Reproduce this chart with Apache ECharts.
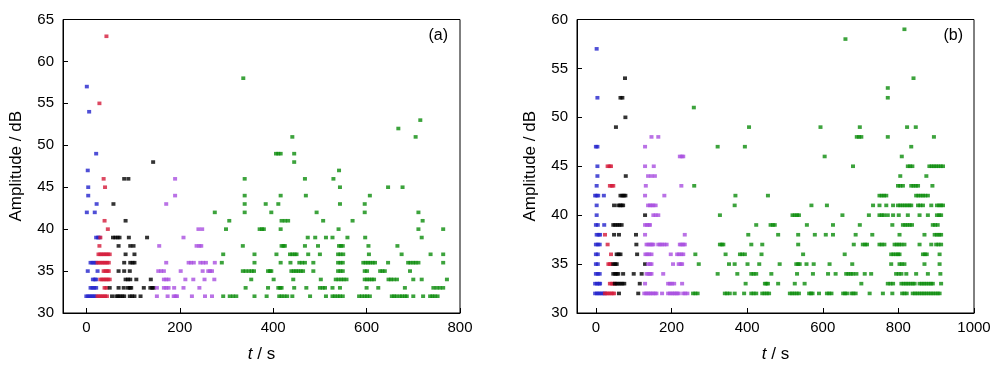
<!DOCTYPE html>
<html>
<head>
<meta charset="utf-8">
<script src="https://cdn.jsdelivr.net/npm/echarts@6/dist/echarts.min.js"></script>
<style>
html,body{margin:0;padding:0;background:#fff;}
#c{width:1000px;height:372px;}
</style>
</head>
<body>
<div id="c"></div>
<script>
// ---------- tick labels ----------
var xTicksA = [0, 200, 400, 600, 800];
var xTicksB = [0, 200, 400, 600, 800, 1000];

// ---------- panel (a) data: [t (s), amplitude (dB)] ----------
var blueA = [[1,57],[6,54],[21,49],[3,47],[4,45],[4,44],[22,43],[1,42],[18,42],
  [21,39],[25,39],[28,39],
  [9,36],[13,36],[17,36],[21,36],
  [3,35],[24,35],
  [14,34],[18,34],[21,34],
  [9,33],[13,33],[17,33],[21,33],
  [0,32],[4,32],[8,32],[12,32],[16,32],[20,32]];

var redA = [[43,63],[28,55],[37,46],[40,45],[39,41],[46,40],[30,39],[28,38],
  [26,37],[30,37],[34,37],[38,37],[42,37],[46,37],[50,37],
  [24,36],[28,36],[32,36],[36,36],[40,36],[44,36],[48,36],
  [37,35],[41,35],[45,35],[48,35],
  [30,34],[34,34],[38,34],[42,34],[46,34],[50,34],
  [39,33],[43,33],
  [24,32],[28,32],[32,32],[36,32],[40,32],[44,32]];

var blackA = [[143,48],[81,46],[90,46],[58,43],[84,41],
  [57,39],[62,39],[67,39],[71,39],[91,39],[130,39],
  [69,38],[94,38],[101,38],
  [84,37],[103,37],
  [81,36],[94,36],[99,36],[103,36],
  [69,35],[81,35],[93,35],
  [84,34],[89,34],[94,34],[107,34],[138,34],
  [50,33],[69,33],[80,33],[89,33],[93,33],[96,33],[123,33],[137,33],[141,33],[144,33],
  [55,32],[64,32],[68,32],[72,32],[77,32],[81,32],[93,32],[98,32],[103,32],[116,32]];

var purpleA = [[190,46],[190,44],[171,43],[240,40],[248,40],[208,39],
  [156,38],[236,38],[242,38],[246,38],
  [171,36],[219,36],[224,36],[230,36],[244,36],[250,36],[256,36],[275,36],
  [154,35],[160,35],[166,35],[202,35],[249,35],[261,35],[265,35],[269,35],
  [166,34],[171,34],[176,34],[212,34],[229,34],[253,34],[274,34],
  [151,33],[166,33],[171,33],[176,33],[188,33],[208,33],[242,33],
  [151,32],[174,32],[187,32],[191,32],[194,32],[226,32],[254,32],[269,32]];

var greenA = [[336,58],[715,53],[668,52],[441,51],[705,51],
  [406,49],[411,49],[416,49],[445,49],
  [445,48],[541,47],
  [339,46],[468,46],[529,46],
  [543,45],[646,45],[677,45],
  [339,44],[416,44],[470,44],[607,44],
  [339,43],[384,43],[411,43],[543,43],[596,43],
  [275,42],[339,42],[396,42],[493,42],[596,42],[711,42],
  [306,41],[418,41],[425,41],[432,41],[507,41],[570,41],[720,41],
  [299,40],[371,40],[376,40],[380,40],[416,40],[540,40],[711,40],[764,40],
  [474,39],[490,39],[513,39],[527,39],[559,39],[597,39],[718,39],
  [335,38],[418,38],[422,38],[425,38],[468,38],[496,38],[541,38],[545,38],[549,38],[604,38],[666,38],
  [293,37],[360,37],[407,37],[436,37],[441,37],[446,37],[450,37],[475,37],[500,37],[539,37],[544,37],[550,37],[605,37],[675,37],[737,37],[764,37],
  [290,36],[360,36],[416,36],[437,36],[456,36],[462,36],[468,36],[486,36],[539,36],[544,36],[549,36],[593,36],[598,36],[603,36],[608,36],[613,36],[618,36],[646,36],[689,36],[694,36],[700,36],[705,36],[711,36],[764,36],
  [335,35],[341,35],[348,35],[354,35],[359,35],[389,35],[393,35],[396,35],[439,35],[444,35],[449,35],[454,35],[459,35],[464,35],[486,35],[539,35],[544,35],[549,35],[596,35],[601,35],[629,35],[634,35],[639,35],[693,35],
  [353,34],[401,34],[443,34],[502,34],[534,34],[540,34],[546,34],[551,34],[557,34],[596,34],[601,34],[606,34],[611,34],[616,34],[647,34],[652,34],[658,34],[665,34],[700,34],[718,34],[772,34],
  [341,33],[389,33],[411,33],[415,33],[418,33],[445,33],[471,33],[500,33],[506,33],[511,33],[527,33],[543,33],[600,33],[625,33],[682,33],[743,33],[750,33],[757,33],[764,33],
  [293,32],[307,32],[314,32],[321,32],[360,32],[386,32],[413,32],[418,32],[424,32],[430,32],[441,32],[479,32],[513,32],[527,32],[532,32],[538,32],[543,32],[549,32],[584,32],[590,32],[596,32],[601,32],[607,32],[654,32],[659,32],[664,32],[671,32],[676,32],[682,32],[686,32],[700,32],[721,32],[736,32],[741,32],[746,32],[752,32]];

// ---------- panel (b) data ----------
var blueB = [[2,57],[4,52],[0,47],[4,47],[4,45],[4,44],[2,43],[-2,42],[2,42],[6,42],[21,42],[2,41],[2,40],
  [0,39],[5,39],[22,39],
  [2,38],[7,38],[11,38],
  [0,37],[5,37],[10,37],
  [0,36],[5,36],
  [0,35],[5,35],
  [0,34],[5,34],[10,34],
  [-2,33],[3,33],[8,33],[11,33],
  [-2,32],[3,32],[8,32],[13,32],[18,32],[23,32]];

var redB = [[31,45],[36,45],[40,45],
  [37,43],[42,43],[46,43],
  [24,38],[31,37],[40,36],
  [33,35],[37,35],[41,35],
  [37,33],[42,33],[46,33],[50,33],
  [24,32],[29,32],[34,32],[39,32],[44,32],[48,32]];

var blackB = [[77,54],[65,52],[70,52],[78,50],[53,49],[79,44],
  [65,42],[70,42],[74,42],[78,42],
  [48,41],[59,41],[64,41],[68,41],[72,41],
  [130,40],
  [46,39],[51,39],[57,39],[62,39],[68,39],
  [48,38],[61,38],[106,38],
  [107,37],
  [55,36],[60,36],[65,36],[109,36],
  [46,35],[51,35],[55,35],[130,35],
  [46,34],[51,34],[55,34],[59,34],[72,34],[100,34],[121,34],
  [50,33],[55,33],[60,33],[65,33],[70,33],[75,33],[116,33],
  [61,32],[112,32]];

var purpleB = [[147,48],[165,48],[130,47],[222,46],[227,46],[231,46],[130,45],[153,45],
  [138,44],[147,44],[156,44],
  [132,43],[226,43],
  [130,42],[181,42],
  [138,41],[143,41],[148,41],[152,41],[158,41],
  [152,40],[158,40],[165,40],
  [130,39],[135,39],[140,39],[143,39],
  [130,38],[235,38],
  [134,37],[139,37],[144,37],[148,37],[152,37],[165,37],[170,37],[175,37],[181,37],[187,37],[222,37],[226,37],[231,37],[235,37],
  [131,36],[136,36],[141,36],[147,36],[198,36],[215,36],[220,36],[226,36],[231,36],
  [138,35],[143,35],[147,35],[204,35],[219,35],[224,35],[228,35],
  [134,34],[139,34],[143,34],[147,34],[178,34],
  [130,33],[191,33],[196,33],[201,33],[207,33],[228,33],
  [128,32],[133,32],[137,32],[142,32],[146,32],[151,32],[156,32],[160,32],[175,32],[191,32],[196,32],[201,32],[206,32],[210,32],[215,32],[219,32],[231,32],[236,32],[242,32]];

var greenB = [[816,59],[660,58],[840,54],[772,53],[772,52],[259,51],
  [405,49],[594,49],[698,49],[823,49],[846,49],
  [690,48],[696,48],[702,48],[772,48],[894,48],
  [322,47],[394,47],[834,47],
  [605,46],[809,46],
  [680,45],[825,45],[831,45],[837,45],[882,45],[888,45],[894,45],[900,45],[906,45],[912,45],[918,45],
  [805,44],[874,44],
  [260,43],[799,43],[805,43],[812,43],[834,43],[840,43],[846,43],[852,43],[890,43],
  [369,42],[455,42],[750,42],[756,42],[762,42],[768,42],[847,42],[853,42],[859,42],[865,42],[871,42],[878,42],
  [367,41],[570,41],[611,41],[733,41],[750,41],[768,41],[786,41],[799,41],[805,41],[811,41],[817,41],[823,41],[829,41],[834,41],[852,41],[858,41],[865,41],[887,41],[902,41],[908,41],[913,41],[918,41],
  [328,40],[520,40],[526,40],[532,40],[537,40],[652,40],[722,40],[750,40],[756,40],[762,40],[772,40],[786,40],[801,40],[825,40],[856,40],[878,40],[902,40],[908,40],[913,40],
  [424,39],[462,39],[468,39],[473,39],[558,39],[627,39],[698,39],[784,39],[812,39],[818,39],[824,39],[830,39],[836,39],[891,39],[897,39],[904,39],
  [403,38],[482,38],[535,38],[579,38],[608,38],[627,38],[687,38],[731,38],[803,38],[869,38],[896,38],[902,38],[908,38],[913,38],
  [328,37],[333,37],[337,37],[411,37],[440,37],[535,37],[682,37],[706,37],[712,37],[717,37],[750,37],[756,37],[763,37],[790,37],[796,37],[802,37],[808,37],[816,37],[856,37],[887,37],[900,37],[906,37],[913,37],
  [263,36],[343,36],[381,36],[387,36],[394,36],[438,36],[548,36],[658,36],[781,36],[787,36],[793,36],[799,36],[803,36],[865,36],[870,36],[875,36],[909,36],
  [272,35],[352,35],[367,35],[401,35],[432,35],[486,35],[530,35],[535,35],[539,35],[557,35],[576,35],[618,35],[678,35],[781,35],[803,35],[809,35],[816,35],[869,35],[909,35],
  [322,34],[374,34],[411,34],[417,34],[424,34],[464,34],[532,34],[574,34],[614,34],[634,34],[662,34],[668,34],[674,34],[680,34],[689,34],[711,34],[728,34],[794,34],[801,34],[808,34],[821,34],[847,34],[878,34],[911,34],
  [396,33],[447,33],[451,33],[455,33],[482,33],[526,33],[552,33],[702,33],[772,33],[779,33],[786,33],[808,33],[814,33],[820,33],[826,33],[832,33],[838,33],[843,33],[856,33],[862,33],[868,33],[874,33],[880,33],[886,33],[891,33],[913,33],
  [257,32],[263,32],[269,32],[341,32],[347,32],[354,32],[367,32],[392,32],[411,32],[417,32],[424,32],[440,32],[446,32],[452,32],[458,32],[513,32],[519,32],[525,32],[531,32],[537,32],[564,32],[569,32],[573,32],[590,32],[611,32],[617,32],[623,32],[654,32],[659,32],[664,32],[676,32],[681,32],[687,32],[724,32],[759,32],[784,32],[810,32],[816,32],[822,32],[838,32],[844,32],[850,32],[856,32],[862,32],[868,32],[874,32],[880,32],[886,32],[892,32],[898,32],[904,32],[909,32]];

// ---------- styles ----------
var COL = {blue:'#2323cc', red:'#d41a3a', black:'#000000', purple:'#a94fe0', green:'#0b8c0b'};
var FONT = 'Liberation Sans, Arial, sans-serif';

function xAxis(idx, max, ticks) {
  return {
    gridIndex: idx, type: 'value', min: -50, max: max,
    name: '{i|t} / s', nameLocation: 'middle', nameGap: 33,
    nameTextStyle: {fontFamily: FONT, fontSize: 17, color: '#000',
      rich: {i: {fontStyle: 'italic', fontFamily: FONT, fontSize: 17, color: '#000'}}},
    axisLine: {show: true, onZero: false, lineStyle: {color: '#000', width: 1}},
    axisTick: {show: true, inside: true, length: 5, customValues: ticks, lineStyle: {color: '#000'}},
    axisLabel: {show: true, customValues: ticks, margin: 7, fontFamily: FONT, fontSize: 15, color: '#000',
      formatter: function (v) { return String(v); }},
    splitLine: {show: false}
  };
}
function yAxis(idx, max) {
  return {
    gridIndex: idx, type: 'value', min: 30, max: max, interval: 5,
    name: 'Amplitude / dB', nameLocation: 'middle', nameGap: 38,
    nameTextStyle: {fontFamily: FONT, fontSize: 17, color: '#000'},
    axisLine: {show: true, onZero: false, lineStyle: {color: '#000', width: 1}},
    axisTick: {show: true, inside: true, length: 5, lineStyle: {color: '#000'}},
    axisLabel: {show: true, margin: 9, fontFamily: FONT, fontSize: 15, color: '#000'},
    splitLine: {show: false}
  };
}
function sc(idx, data, color) {
  return {type: 'scatter', xAxisIndex: idx, yAxisIndex: idx, data: data,
    symbol: 'rect', symbolSize: [4, 3.6], itemStyle: {color: color}, silent: true};
}

var chart = echarts.init(document.getElementById('c'), null, {renderer: 'canvas'});
chart.setOption({
  animation: false,
  backgroundColor: '#fff',
  grid: [
    {left: 63, top: 19.5, width: 397, height: 293.5, show: true, borderColor: '#000', borderWidth: 1, backgroundColor: 'transparent'},
    {left: 577, top: 19.5, width: 397, height: 293.5, show: true, borderColor: '#000', borderWidth: 1, backgroundColor: 'transparent'}
  ],
  xAxis: [xAxis(0, 800, xTicksA), xAxis(1, 1000, xTicksB)],
  yAxis: [yAxis(0, 65), yAxis(1, 60)],
  graphic: [
    {type: 'text', right: 1000 - 448, top: 28, style: {text: '(a)', font: '16px ' + FONT, fill: '#000'}},
    {type: 'text', right: 1000 - 963, top: 28, style: {text: '(b)', font: '16px ' + FONT, fill: '#000'}}
  ],
  series: [
    sc(0, blueA, COL.blue), sc(0, redA, COL.red), sc(0, blackA, COL.black), sc(0, purpleA, COL.purple), sc(0, greenA, COL.green),
    sc(1, blueB, COL.blue), sc(1, redB, COL.red), sc(1, blackB, COL.black), sc(1, purpleB, COL.purple), sc(1, greenB, COL.green)
  ]
});
</script>
</body>
</html>
